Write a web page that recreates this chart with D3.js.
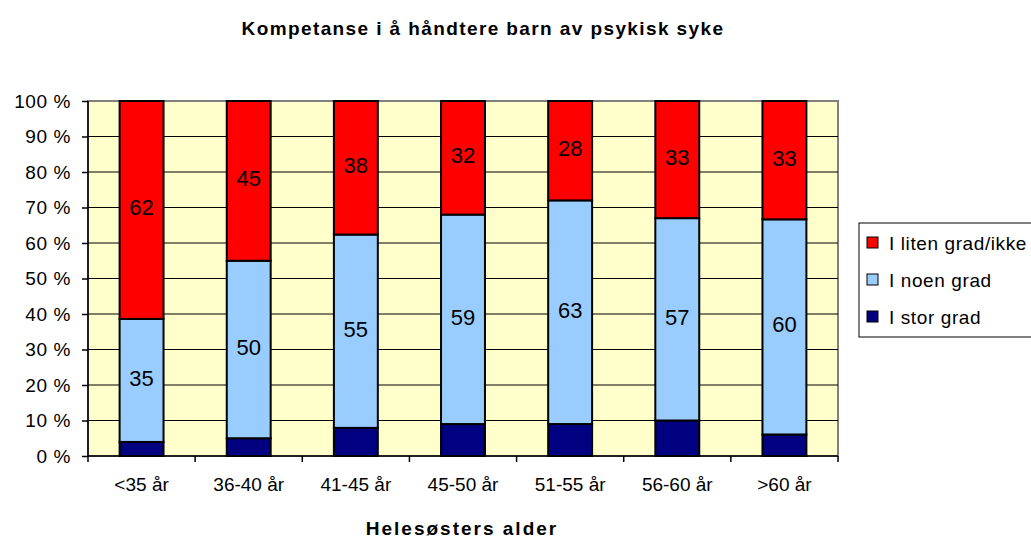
<!DOCTYPE html>
<html>
<head>
<meta charset="utf-8">
<script src="https://cdn.jsdelivr.net/npm/d3@7"></script>
<style>
  body { margin: 0; background: #fff; }
  text { font-family: "Liberation Sans", Arial, sans-serif; fill: #000; }
</style>
</head>
<body>
<script>
// data
var categories = ["<35 år", "36-40 år", "41-45 år", "45-50 år", "51-55 år", "56-60 år", ">60 år"];
var seriesNames = ["I stor grad", "I noen grad", "I liten grad/ikke"];
var storGrad = [4, 5, 8, 9, 9, 10, 6];
var noenGrad = [35, 50, 55, 59, 63, 57, 60];
var litenGrad = [62, 45, 38, 32, 28, 33, 33];
var colors = ["#000080", "#99ccff", "#ff0000"];
var yTicks = [0, 10, 20, 30, 40, 50, 60, 70, 80, 90, 100];

var width = 1031, height = 538;
var margin = { top: 101, left: 88, right: 193, bottom: 82 };
var plotW = width - margin.left - margin.right;
var plotH = height - margin.top - margin.bottom;

var svg = d3.select("body").append("svg")
  .attr("width", width).attr("height", height);

// build table for d3.stack, normalised to 100 %
var table = categories.map(function(c, i) {
  return { cat: c, s0: storGrad[i], s1: noenGrad[i], s2: litenGrad[i] };
});
var stack = d3.stack().keys(["s0", "s1", "s2"]).offset(d3.stackOffsetExpand);
var layers = stack(table);

var x = d3.scaleBand().domain(categories).range([0, plotW]).paddingInner(0.59).paddingOuter(0.295);
var xOuter = d3.scaleBand().domain(categories).range([0, plotW]);
var y = d3.scaleLinear().domain([0, 1]).range([plotH, 0]);

var g = svg.append("g").attr("transform", "translate(" + margin.left + "," + margin.top + ")");

// plot area
g.append("rect").attr("width", plotW).attr("height", plotH)
  .attr("fill", "#ffffcc").attr("stroke", "#808080").attr("stroke-width", 2);

// gridlines
g.selectAll(".grid").data(yTicks.slice(1, -1)).enter().append("line")
  .attr("x1", 0).attr("x2", plotW)
  .attr("y1", function(d) { return y(d / 100); })
  .attr("y2", function(d) { return y(d / 100); })
  .attr("stroke", "#000").attr("stroke-width", 1);

// bars
g.selectAll(".layer").data(layers).enter().append("g")
  .attr("fill", function(d, i) { return colors[i]; })
  .selectAll("rect").data(function(d) { return d; }).enter().append("rect")
  .attr("x", function(d) { return x(d.data.cat); })
  .attr("width", x.bandwidth())
  .attr("y", function(d) { return y(d[1]); })
  .attr("height", function(d) { return y(d[0]) - y(d[1]); })
  .attr("stroke", "#000").attr("stroke-width", 2);

// data labels (only the upper two series)
layers.slice(1).forEach(function(layer, li) {
  var vals = li == 0 ? noenGrad : litenGrad;
  g.selectAll(".lbl" + li).data(layer).enter().append("text")
    .attr("x", function(d) { return x(d.data.cat) + x.bandwidth() / 2; })
    .attr("y", function(d) { return (y(d[0]) + y(d[1])) / 2; })
    .attr("dy", "0.25em")
    .attr("text-anchor", "middle")
    .style("font-size", "22px")
    .text(function(d, i) { return vals[i]; });
});

// y axis
var yAxis = d3.axisLeft(y).tickValues(yTicks.map(function(d) { return d / 100; }))
  .tickSize(6).tickPadding(11)
  .tickFormat(function(d) { return Math.round(d * 100) + " %"; });
var ya = g.append("g").call(yAxis);
ya.select(".domain").attr("stroke", "#000").attr("stroke-width", 1.5).attr("d", "M0,0V" + plotH);
ya.selectAll("line").attr("stroke", "#000").attr("stroke-width", 1.5);
ya.selectAll("text").style("font-size", "19px").style("letter-spacing", "0.6px").attr("fill", "#000");

// x axis
var xa = g.append("g").attr("transform", "translate(0," + plotH + ")")
  .call(d3.axisBottom(xOuter).tickSize(0).tickPadding(22));
xa.select(".domain").attr("stroke", "#000").attr("stroke-width", 1.5).attr("d", "M0,0H" + plotW);
xa.selectAll("text").style("font-size", "19px").attr("fill", "#000");
g.selectAll(".xtick").data(d3.range(categories.length + 1)).enter().append("line")
  .attr("x1", function(i) { return i * xOuter.step(); })
  .attr("x2", function(i) { return i * xOuter.step(); })
  .attr("y1", plotH).attr("y2", plotH + 6)
  .attr("stroke", "#000").attr("stroke-width", 1.5);

// title
svg.append("text").attr("x", 483).attr("y", 35).attr("text-anchor", "middle")
  .style("font-size", "19px").style("font-weight", "bold").style("letter-spacing", "1.4px")
  .text("Kompetanse i å håndtere barn av psykisk syke");
svg.append("text").attr("x", 462).attr("y", 535).attr("text-anchor", "middle")
  .style("font-size", "19px").style("font-weight", "bold").style("letter-spacing", "2px")
  .text("Helesøsters alder");

// legend
var legend = svg.append("g").attr("transform", "translate(859,223)");
legend.append("rect").attr("width", 190).attr("height", 114)
  .attr("fill", "#fff").attr("stroke", "#000").attr("stroke-width", 1);
var order = [2, 1, 0];
var items = legend.selectAll(".item").data(order).enter().append("g")
  .attr("transform", function(d, i) { return "translate(8," + (20 + i * 37) + ")"; });
items.append("rect").attr("x", 0).attr("y", -6).attr("width", 11).attr("height", 11)
  .attr("fill", function(d) { return colors[d]; }).attr("stroke", "#000").attr("stroke-width", 1);
items.append("text").attr("x", 22).attr("y", 0).attr("dy", "0.36em")
  .style("font-size", "19px").style("letter-spacing", "0.6px")
  .text(function(d) { return seriesNames[d]; });
</script>
</body>
</html>
